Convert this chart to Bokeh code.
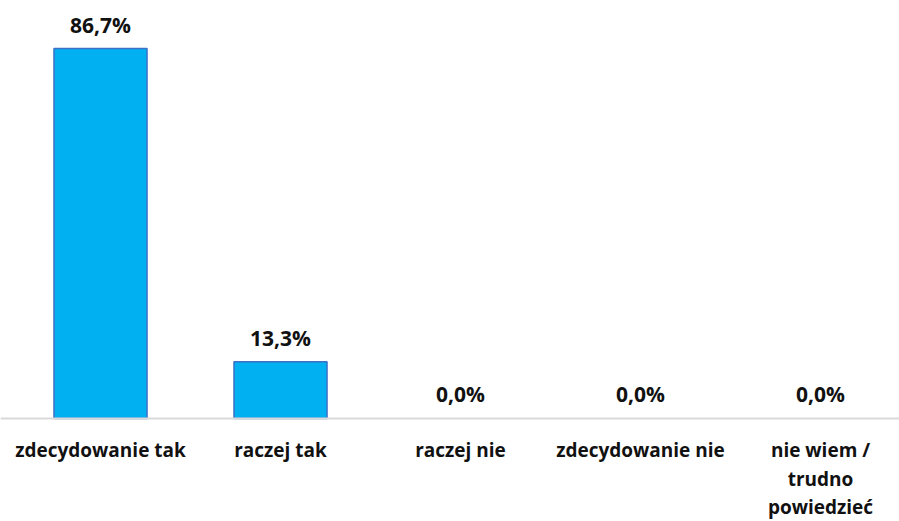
from bokeh.plotting import figure
from bokeh.models import ColumnDataSource, Range1d, Span, CDSView, BooleanFilter
from bokeh.core.properties import value
from bokeh.embed import file_html
from bokeh.resources import INLINE

categories = ["zdecydowanie tak", "raczej tak", "raczej nie", "zdecydowanie nie",
              "nie wiem /\ntrudno\npowiedzieć"]
values = [86.7, 13.3, 0.0, 0.0, 0.0]

xs = list(range(len(categories)))
value_labels = [f"{v:.1f}".replace(".", ",") + "%" for v in values]

src = ColumnDataSource(data=dict(x=xs, top=values, lab=value_labels, cat=categories,
                                 zero=[0] * len(xs)))
nonzero = CDSView(filter=BooleanFilter([v > 0 for v in values]))

p = figure(width=899, height=521, output_backend="svg", toolbar_location=None,
           x_range=Range1d(-0.5556, 4.4389), y_range=Range1d(-24.14, 97.95),
           min_border=0, outline_line_color=None, background_fill_color="white",
           border_fill_color="white")
p.axis.visible = False
p.grid.visible = False

p.add_layout(Span(location=0, dimension="width", line_color="#d9d9d9", line_width=2))

p.vbar(x="x", top="top", bottom=0, width=0.517, source=src, view=nonzero,
       fill_color="#00B0F0", line_color="#3F6FC6", line_width=1.5)

p.text(x="x", y="top", text="lab", source=src, text_align="center",
       text_baseline="alphabetic", y_offset=-24, text_font=value("Open Sans"),
       text_font_style="bold", text_font_size="21px", text_color="#111111")

p.text(x="x", y="zero", text="cat", source=src, text_align="center",
       text_baseline="top", y_offset=19, text_font=value("Open Sans"),
       text_font_style="bold", text_font_size="19px", text_color="#111111",
       text_line_height=1.08)

open("out.html", "w").write(file_html(p, INLINE))
